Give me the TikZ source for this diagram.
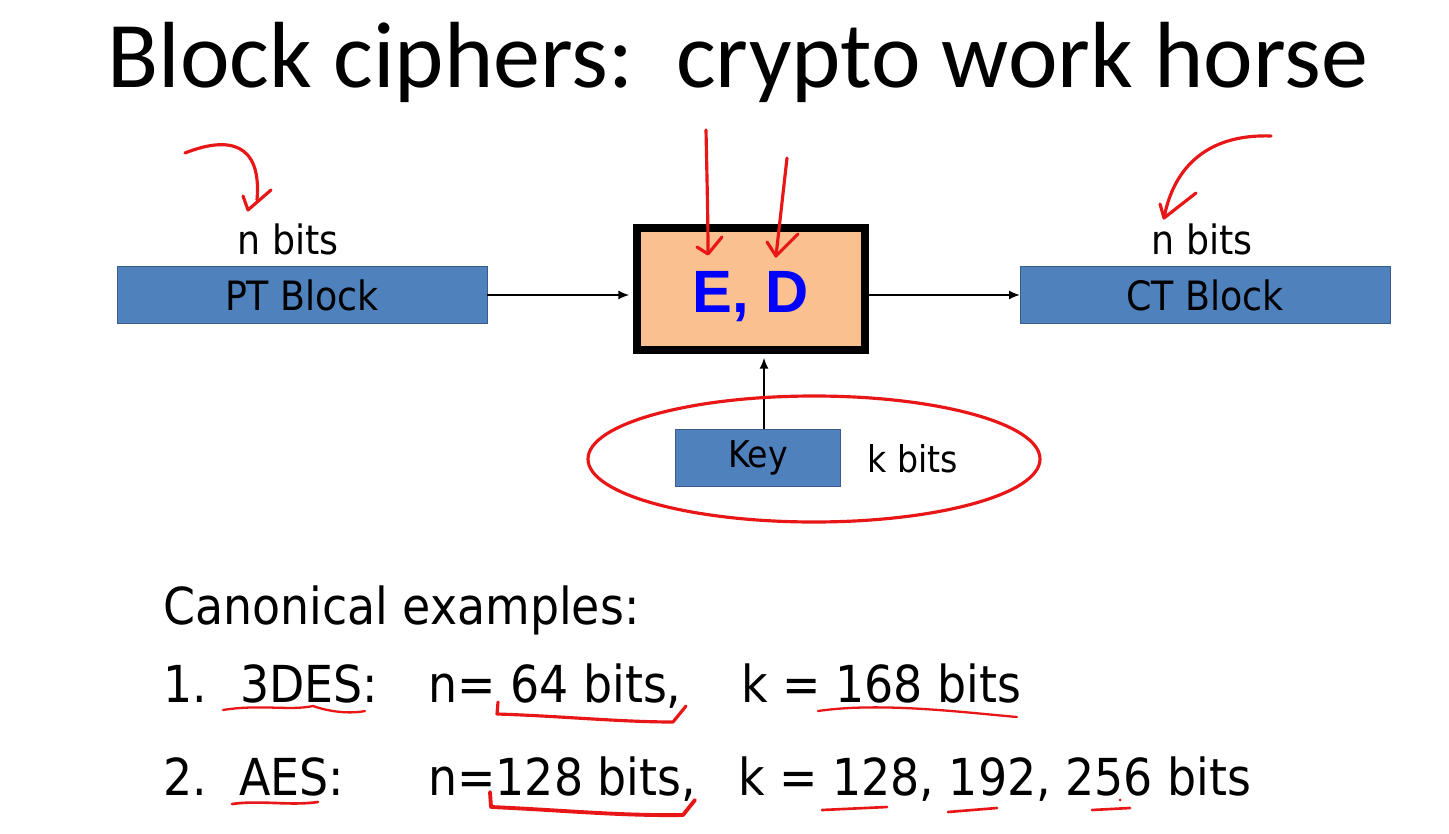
\documentclass[tikz,border=0pt]{standalone}
\usepackage{fontspec}
\setmainfont{DejaVu Sans Condensed}
\newfontfamily\titlefont{Carlito}
\newfontfamily\boldfont{Liberation Sans}
\usepackage{tikz}
\usetikzlibrary{arrows.meta}
\definecolor{blockblue}{RGB}{79,129,189}
\definecolor{blockedge}{RGB}{56,93,138}
\definecolor{peach}{RGB}{250,192,143}
\definecolor{pen}{RGB}{232,22,22}
\tikzstyle{block} = [rectangle, minimum width=7.4cm, minimum height=1.14cm, inner sep=0pt, text centered, draw=blockedge, fill=blockblue, font=\fontsize{23}{23}\selectfont]
\tikzstyle{keybox} = [block, minimum width=3.3cm, font=\fontsize{21}{21}\selectfont]
\tikzstyle{cipher} = [rectangle, minimum width=4.56cm, minimum height=2.44cm, line width=4.5pt, draw=black, fill=peach, text=blue, font=\boldfont\bfseries\fontsize{34}{34}\selectfont]
\tikzstyle{bitsnote} = [inner sep=0pt, font=\fontsize{23}{23}\selectfont]
\tikzstyle{example} = [anchor=base west, inner sep=0pt, font=\fontsize{29}{29}\selectfont]
\tikzstyle{arrow} = [line width=0.6pt, ->, >={Latex[length=6pt,width=5pt]}]
\tikzstyle{ink} = [pen, line width=1.8pt, line cap=round, line join=round]

\begin{document}
\begin{tikzpicture}[x=0.02cm, y=-0.02cm]
\useasboundingbox (0,0) rectangle (1449,834);
\fill[white] (0,0) rectangle (1449,834);

\node (title) [anchor=base, inner sep=0pt, font=\titlefont\fontsize{53.5}{53.5}\selectfont] at (738,88) {Block ciphers:\ \ crypto work horse};

% block cipher diagram
\node (ed) [cipher] at (751,289) {\raisebox{-13.5pt}[0pt][0pt]{E, D}};
\node (pt) [block] at (302,295) {PT Block};
\node (ct) [block] at (1205,295) {CT Block};
\node (key) [keybox] at (758,458) {Key};
\node (kbits) [bitsnote, font=\fontsize{21}{21}\selectfont] at (913,459) {k bits};
\node (nin) [bitsnote] at (288,239) {n bits};
\node (nout) [bitsnote] at (1202,239) {n bits};

\draw [arrow, shorten >=2.3pt] (pt) -- (pt -| ed.west);
\draw [arrow] (pt -| ed.east) -- (ct);
\draw [arrow, shorten >=2.3pt] ([xshift=0.12cm]key.north) -- ([xshift=0.12cm]key.north |- ed.south);

% red pen marks
\draw [ink] (185,153) .. controls (228,136) and (262,142) .. (257,200);
\draw [ink] (243,196) -- (248,210) -- (271,190);
\draw [ink] (706,130) .. controls (707,180) and (708,220) .. (708,253);
\draw [ink] (697,247) -- (708,254) -- (722,237);
\draw [ink] (787,158) -- (776,256);
\draw [ink] (767,242) -- (776,256) -- (798,234);
\draw [ink] (1271,136) .. controls (1215,134) and (1175,160) .. (1164,218);
\draw [ink] (1160,204) -- (1164,218) -- (1196,193);
\draw [ink] (814,459) ellipse [x radius=226, y radius=63];

% examples
\node (canon) [example] at (163,624) {Canonical examples:};
\node (one) [example] at (163,702) {1.};
\node (des) [example] at (240,702) {3DES:};
\node (ndes) [example] at (428,702) {n= 64 bits,};
\node (kdes) [example] at (741,702) {k = 168 bits};
\node (two) [example] at (163,795) {2.};
\node (aes) [example] at (239,795) {AES:};
\node (naes) [example] at (428,795) {n=128 bits,};
\node (kaes) [example] at (738,795) {k = 128, 192, 256 bits};

\draw [ink, line width=1.3pt] (223,710) .. controls (260,704) and (290,711) .. (313,706) .. controls (330,712) and (350,714) .. (365,711);
\draw [ink] (498,702) -- (497,714) .. controls (560,716) and (620,722) .. (673,722) -- (686,706);
\draw [ink, line width=1.3pt] (818,711) .. controls (880,702) and (960,712) .. (1017,717);
\draw [ink, line width=1.5pt] (232,804) .. controls (260,800) and (290,806) .. (318,802);
\draw [ink, line width=2.2pt] (490,792) -- (491,807) .. controls (560,810) and (620,816) .. (683,815) -- (695,800);
\draw [ink, line width=1.5pt] (822,810) -- (887,807);
\draw [ink, line width=1.5pt] (948,812) -- (997,808);
\draw [ink, line width=1.5pt] (1092,810) -- (1130,808);
\fill [pen] (1120,800) circle [radius=1.5];
\end{tikzpicture}
\end{document}
